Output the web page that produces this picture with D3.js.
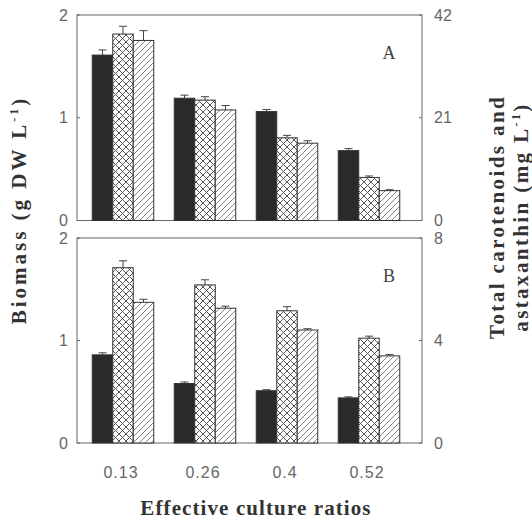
<!DOCTYPE html>
<html>
<head>
<meta charset="utf-8">
<script src="https://cdn.jsdelivr.net/npm/d3@7"></script>
<style>
  body { margin: 0; background: #fff; }
  svg { display: block; }
</style>
</head>
<body>
<svg id="chart" width="532" height="522"></svg>
<script>
// ── Data ──────────────────────────────────────────────────────────────────────
const ratios = ["0.13", "0.26", "0.4", "0.52"];

// Panel A
const biomassA = [1.61, 1.19, 1.06, 0.68];
const biomassAErr = [0.05, 0.03, 0.02, 0.02];
const caroteA = [38.1, 24.6, 16.9, 8.8];
const caroteAErr = [1.6, 0.7, 0.5, 0.3];
const astaA = [36.8, 22.6, 15.8, 6.1];
const astaAErr = [2.0, 0.9, 0.5, 0.2];

// Panel B
const biomassB = [0.86, 0.58, 0.51, 0.44];
const biomassBErr = [0.02, 0.015, 0.01, 0.01];
const caroteB = [6.84, 6.17, 5.16, 4.09];
const caroteBErr = [0.27, 0.2, 0.16, 0.08];
const astaB = [5.49, 5.26, 4.41, 3.40];
const astaBErr = [0.12, 0.08, 0.05, 0.05];

const leftTicks = [0, 1, 2];
const rightTicksA = [0, 21, 42];
const rightTicksB = [0, 4, 8];

// ── Setup ─────────────────────────────────────────────────────────────────────
const svg = d3.select("#chart");
const defs = svg.append("defs");
const ink = "#2a2a2a";
const axisCol = "#666";
const tickText = "#666";
const sans = "Liberation Sans, Arial, sans-serif";
const serif = "Liberation Serif, Times New Roman, serif";

const cross = defs.append("pattern")
  .attr("id", "cross").attr("patternUnits", "userSpaceOnUse")
  .attr("width", 7).attr("height", 7);
cross.append("rect").attr("width", 7).attr("height", 7).attr("fill", "#fff");
cross.append("path").attr("d", "M0,0L7,7M7,0L0,7M-1,6L1,8M6,-1L8,1")
  .attr("stroke", "#555").attr("stroke-width", 1);

const hatch = defs.append("pattern")
  .attr("id", "hatch").attr("patternUnits", "userSpaceOnUse")
  .attr("width", 6).attr("height", 6);
hatch.append("rect").attr("width", 6).attr("height", 6).attr("fill", "#fff");
hatch.append("path").attr("d", "M0,6L6,0M-1,1L1,-1M5,7L7,5")
  .attr("stroke", "#777").attr("stroke-width", 0.9);

const left = 77, right = 422;
const x0 = d3.scaleBand().domain(ratios).range([82, 410]).paddingInner(0.25).paddingOuter(0.125);
const series = ["bio", "car", "ast"];
const x1 = d3.scaleBand().domain(series).range([0, x0.bandwidth()]);
const fills = { bio: ink, car: "url(#cross)", ast: "url(#hatch)" };

function drawPanel(top, bottom, rightMax, rightTicks, bio, bioErr, car, carErr, ast, astErr, letter) {
  const yL = d3.scaleLinear().domain([0, 2]).range([bottom, top]);
  const yR = d3.scaleLinear().domain([0, rightMax]).range([bottom, top]);
  const g = svg.append("g");

  // frame
  g.append("rect").attr("x", left).attr("y", top)
    .attr("width", right - left).attr("height", bottom - top)
    .attr("fill", "none").attr("stroke", axisCol).attr("stroke-width", 1);

  const rows = [];
  ratios.forEach((r, i) => {
    rows.push({ r, s: "bio", v: bio[i], e: bioErr[i], y: yL });
    rows.push({ r, s: "car", v: car[i], e: carErr[i], y: yR });
    rows.push({ r, s: "ast", v: ast[i], e: astErr[i], y: yR });
  });
  const cx = (d) => x0(d.r) + x1(d.s) + x1.bandwidth() / 2;

  // error bars
  const eb = g.selectAll(".err").data(rows).join("g").attr("class", "err")
    .attr("stroke", "#444").attr("stroke-width", 1);
  eb.append("line")
    .attr("x1", cx).attr("x2", cx)
    .attr("y1", (d) => d.y(d.v)).attr("y2", (d) => d.y(d.v + d.e));
  eb.append("line")
    .attr("x1", (d) => cx(d) - 4).attr("x2", (d) => cx(d) + 4)
    .attr("y1", (d) => d.y(d.v + d.e)).attr("y2", (d) => d.y(d.v + d.e));

  // bars
  g.selectAll(".bar").data(rows).join("rect").attr("class", "bar")
    .attr("x", (d) => x0(d.r) + x1(d.s))
    .attr("width", x1.bandwidth())
    .attr("y", (d) => d.y(d.v))
    .attr("height", (d) => bottom - d.y(d.v))
    .attr("fill", (d) => fills[d.s])
    .attr("stroke", "#333").attr("stroke-width", 1);

  // ticks (inward)
  g.selectAll(".tl").data(leftTicks).join("line")
    .attr("x1", left).attr("x2", left + 3)
    .attr("y1", (d) => yL(d)).attr("y2", (d) => yL(d))
    .attr("stroke", axisCol);
  g.selectAll(".tr").data(rightTicks).join("line")
    .attr("x1", right).attr("x2", right - 3)
    .attr("y1", (d) => yR(d)).attr("y2", (d) => yR(d))
    .attr("stroke", axisCol);

  g.selectAll(".ltl").data(leftTicks).join("text")
    .attr("x", 68).attr("y", (d) => yL(d)).attr("dy", "0.35em")
    .attr("text-anchor", "end")
    .attr("font-family", sans).attr("font-size", 16).attr("fill", tickText)
    .text((d) => d);
  g.selectAll(".rtl").data(rightTicks).join("text")
    .attr("x", 434).attr("y", (d) => yR(d)).attr("dy", "0.35em")
    .attr("text-anchor", "start")
    .attr("font-family", sans).attr("font-size", 16).attr("fill", tickText)
    .text((d) => d);

  g.append("text").attr("x", 389).attr("y", top + 44)
    .attr("text-anchor", "middle")
    .attr("font-family", serif).attr("font-size", 18).attr("fill", "#444")
    .text(letter);
}

drawPanel(15, 220.5, 42, rightTicksA, biomassA, biomassAErr, caroteA, caroteAErr, astaA, astaAErr, "A");
drawPanel(238, 443, 8, rightTicksB, biomassB, biomassBErr, caroteB, caroteBErr, astaB, astaBErr, "B");

// x tick labels
svg.selectAll(".xl").data(ratios).join("text")
  .attr("x", (d) => x0(d) + x0.bandwidth() / 2 - 2).attr("y", 478)
  .attr("text-anchor", "middle")
  .attr("font-family", sans).attr("font-size", 16).attr("fill", tickText)
  .attr("letter-spacing", 1)
  .text((d) => d);

// axis titles
svg.append("text").attr("x", 256).attr("y", 515)
  .attr("text-anchor", "middle").attr("font-family", serif)
  .attr("font-weight", "bold").attr("font-size", 21).attr("fill", "#333")
  .attr("letter-spacing", 1.1)
  .text("Effective culture ratios");

const yt = svg.append("text")
  .attr("transform", "translate(26,210) rotate(-90)")
  .attr("text-anchor", "middle").attr("font-family", serif)
  .attr("font-weight", "bold").attr("font-size", 21).attr("fill", "#333")
  .attr("letter-spacing", 3);
yt.append("tspan").text("Biomass (g DW L");
yt.append("tspan").attr("dy", -8).attr("font-size", 12).text("-1");
yt.append("tspan").attr("dy", 8).text(")");

const rt = svg.append("g").attr("transform", "translate(504,217) rotate(-90)")
  .attr("font-family", serif).attr("font-weight", "bold")
  .attr("font-size", 21).attr("fill", "#333").attr("text-anchor", "middle")
  .attr("letter-spacing", 2.4);
rt.append("text").attr("y", 0).text("Total carotenoids and");
const rt2 = rt.append("text").attr("y", 24);
rt2.append("tspan").text("astaxanthin (mg L");
rt2.append("tspan").attr("dy", -8).attr("font-size", 12).text("-1");
rt2.append("tspan").attr("dy", 8).text(")");
</script>
</body>
</html>
